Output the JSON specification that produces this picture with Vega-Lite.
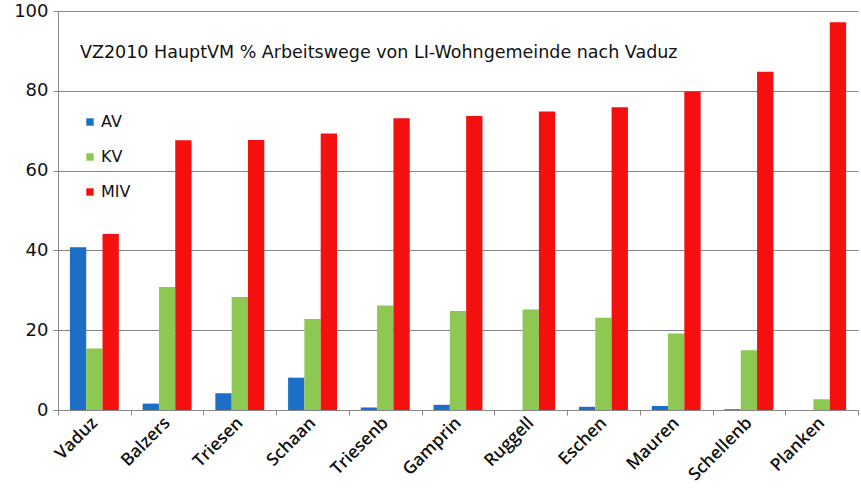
{
  "$schema": "https://vega.github.io/schema/vega-lite/v6.json",
  "width": 800,
  "height": 399,
  "autosize": {"type": "none"},
  "padding": {"left": 58, "top": 11, "right": 3, "bottom": 81},
  "background": "white",
  "title": {
    "text": "VZ2010 HauptVM % Arbeitswege von LI-Wohngemeinde nach Vaduz",
    "anchor": "start",
    "frame": "group",
    "font": "DejaVu Sans",
    "fontSize": 17.5,
    "fontWeight": "normal",
    "color": "#111",
    "dx": 22,
    "dy": 73,
    "baseline": "alphabetic",
    "offset": 0
  },
  "data": {
    "values": [
      {"gemeinde": "Vaduz", "modus": "AV", "wert": 40.8},
      {"gemeinde": "Vaduz", "modus": "KV", "wert": 15.4},
      {"gemeinde": "Vaduz", "modus": "MIV", "wert": 44.1},
      {"gemeinde": "Balzers", "modus": "AV", "wert": 1.6},
      {"gemeinde": "Balzers", "modus": "KV", "wert": 30.8},
      {"gemeinde": "Balzers", "modus": "MIV", "wert": 67.6},
      {"gemeinde": "Triesen", "modus": "AV", "wert": 4.2},
      {"gemeinde": "Triesen", "modus": "KV", "wert": 28.3},
      {"gemeinde": "Triesen", "modus": "MIV", "wert": 67.7},
      {"gemeinde": "Schaan", "modus": "AV", "wert": 8.1},
      {"gemeinde": "Schaan", "modus": "KV", "wert": 22.8},
      {"gemeinde": "Schaan", "modus": "MIV", "wert": 69.3},
      {"gemeinde": "Triesenb", "modus": "AV", "wert": 0.6},
      {"gemeinde": "Triesenb", "modus": "KV", "wert": 26.2},
      {"gemeinde": "Triesenb", "modus": "MIV", "wert": 73.1},
      {"gemeinde": "Gamprin", "modus": "AV", "wert": 1.3},
      {"gemeinde": "Gamprin", "modus": "KV", "wert": 24.8},
      {"gemeinde": "Gamprin", "modus": "MIV", "wert": 73.7},
      {"gemeinde": "Ruggell", "modus": "AV", "wert": 0},
      {"gemeinde": "Ruggell", "modus": "KV", "wert": 25.2},
      {"gemeinde": "Ruggell", "modus": "MIV", "wert": 74.8},
      {"gemeinde": "Eschen", "modus": "AV", "wert": 0.8},
      {"gemeinde": "Eschen", "modus": "KV", "wert": 23.1},
      {"gemeinde": "Eschen", "modus": "MIV", "wert": 75.9},
      {"gemeinde": "Mauren", "modus": "AV", "wert": 1.0},
      {"gemeinde": "Mauren", "modus": "KV", "wert": 19.2},
      {"gemeinde": "Mauren", "modus": "MIV", "wert": 79.8},
      {"gemeinde": "Schellenb", "modus": "AV", "wert": 0.2},
      {"gemeinde": "Schellenb", "modus": "KV", "wert": 15.0},
      {"gemeinde": "Schellenb", "modus": "MIV", "wert": 84.8},
      {"gemeinde": "Planken", "modus": "AV", "wert": 0},
      {"gemeinde": "Planken", "modus": "KV", "wert": 2.7},
      {"gemeinde": "Planken", "modus": "MIV", "wert": 97.2}
    ]
  },
  "mark": {"type": "bar"},
  "encoding": {
    "x": {
      "field": "gemeinde",
      "type": "nominal",
      "sort": null,
      "title": null,
      "scale": {"paddingInner": 0, "paddingOuter": 0},
      "axis": {
        "tickBand": "extent",
        "grid": false,
        "labelAngle": -45,
        "labelAlign": "right",
        "labelBaseline": "middle",
        "labelFont": "Open Sans",
        "labelFontWeight": 600,
        "labelFontSize": 17.5,
        "labelColor": "#111",
        "labelPadding": 5,
        "domainColor": "#888",
        "tickColor": "#888",
        "tickSize": 5
      }
    },
    "xOffset": {
      "field": "modus",
      "type": "nominal",
      "scale": {"paddingInner": 0, "paddingOuter": 0.73}
    },
    "y": {
      "field": "wert",
      "type": "quantitative",
      "title": null,
      "scale": {"domain": [0, 100]},
      "axis": {
        "values": [0, 20, 40, 60, 80, 100],
        "gridColor": "#858585",
        "gridWidth": 1.2,
        "domainColor": "#888",
        "tickColor": "#888",
        "tickSize": 5,
        "labelFont": "DejaVu Sans",
        "labelFontSize": 18,
        "labelColor": "#111",
        "labelPadding": 5
      }
    },
    "color": {
      "field": "modus",
      "type": "nominal",
      "title": null,
      "scale": {"domain": ["AV", "KV", "MIV"], "range": ["#1c6ec6", "#8cc852", "#f51010"]},
      "legend": {
        "orient": "none",
        "legendX": 24,
        "legendY": 103,
        "symbolType": "square",
        "symbolSize": 55,
        "symbolStrokeWidth": 0,
        "labelFont": "DejaVu Sans",
        "labelFontSize": 16,
        "labelColor": "#111",
        "rowPadding": 19,
        "labelOffset": 3
      }
    }
  },
  "config": {
    "view": {"stroke": null}
  }
}
